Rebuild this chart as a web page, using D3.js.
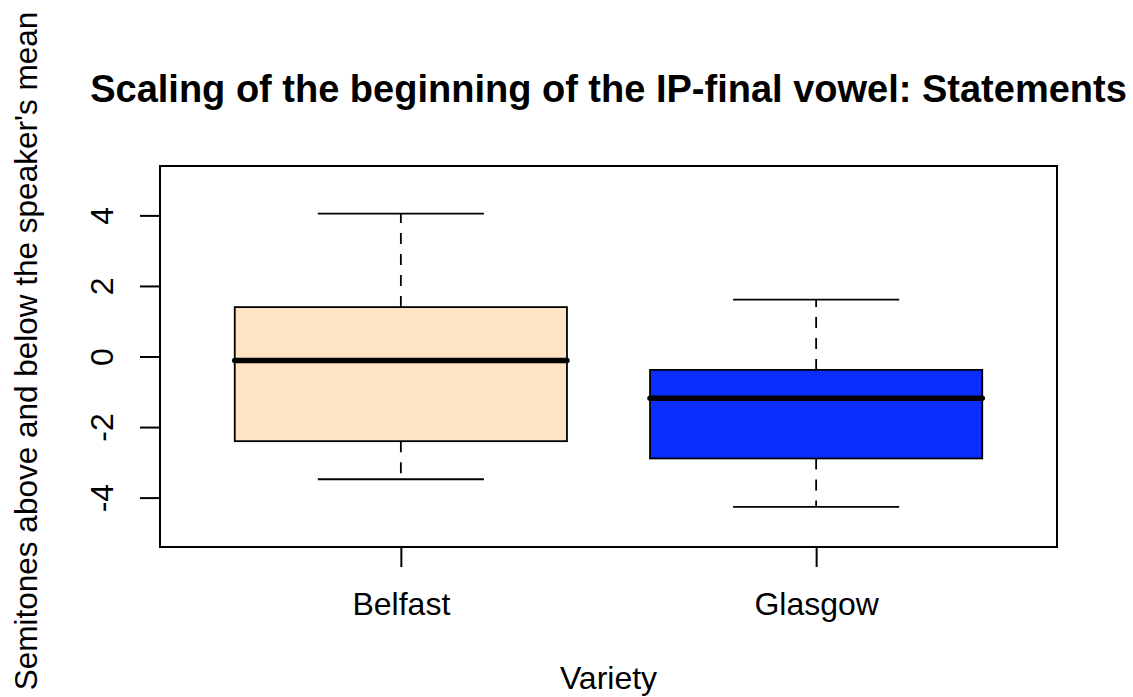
<!DOCTYPE html>
<html>
<head>
<meta charset="utf-8">
<script src="https://cdn.jsdelivr.net/npm/d3@7"></script>
<style>
  body { margin: 0; background: #fff; }
  text { font-family: "Liberation Sans", Arial, sans-serif; fill: #000; }
</style>
</head>
<body>
<div id="plot"></div>
<script>
// boxplot statistics
var varieties = ['Belfast', 'Glasgow'];
var lowWhisker = [-3.48, -4.26];
var lowerQuartile = [-2.40, -2.89];
var medians = [-0.11, -1.18];
var upperQuartile = [1.40, -0.38];
var highWhisker = [4.05, 1.61];
var yTicks = [-4, -2, 0, 2, 4];
var fills = ['#ffe4c4', '#0b2dff'];

var W = 1133, H = 697;
var margin = {t: 166, r: 76, b: 150, l: 160};
var width = W - margin.l - margin.r,
    height = H - margin.t - margin.b;

var svg = d3.select('#plot')
  .append('svg')
  .attr('width', W)
  .attr('height', H);

// R style domains: ylim c(-5,5) and x 0.5..2.5, both padded 4%
var x = d3.scaleLinear().domain([0.42, 2.58]).range([margin.l, margin.l + width]);
var y = d3.scaleLinear().domain([-5.4, 5.4]).range([margin.t + height, margin.t]);

var boxes = varieties.map(function (v, i) {
  return {name: v, pos: i + 1, lo: lowWhisker[i], q1: lowerQuartile[i], med: medians[i],
          q3: upperQuartile[i], hi: highWhisker[i], fill: fills[i]};
});

var g = svg.selectAll('g.box').data(boxes).enter().append('g').attr('class', 'box');

// whiskers (dashed)
g.append('line')
  .attr('x1', d => x(d.pos)).attr('x2', d => x(d.pos))
  .attr('y1', d => y(d.q3)).attr('y2', d => y(d.hi))
  .style('stroke', '#000').style('stroke-width', 1.8).style('stroke-dasharray', '11,10');
g.append('line')
  .attr('x1', d => x(d.pos)).attr('x2', d => x(d.pos))
  .attr('y1', d => y(d.q1)).attr('y2', d => y(d.lo))
  .style('stroke', '#000').style('stroke-width', 1.8).style('stroke-dasharray', '11,10');

// staples
['lo', 'hi'].forEach(function (k) {
  g.append('line')
    .attr('x1', d => x(d.pos - 0.2)).attr('x2', d => x(d.pos + 0.2))
    .attr('y1', d => y(d[k])).attr('y2', d => y(d[k]))
    .style('stroke', '#000').style('stroke-width', 1.8);
});

g.append('rect')
  .attr('x', d => x(d.pos - 0.4))
  .attr('width', d => x(d.pos + 0.4) - x(d.pos - 0.4))
  .attr('y', d => y(d.q3))
  .attr('height', d => y(d.q1) - y(d.q3))
  .style('fill', d => d.fill)
  .style('stroke', '#000').style('stroke-width', 1.8);

g.append('line')
  .attr('x1', d => x(d.pos - 0.4)).attr('x2', d => x(d.pos + 0.4))
  .attr('y1', d => y(d.med)).attr('y2', d => y(d.med))
  .style('stroke', '#000').style('stroke-width', 5.5).style('stroke-linecap', 'round');

// plot frame
svg.append('rect')
  .attr('x', margin.l).attr('y', margin.t)
  .attr('width', width).attr('height', height)
  .style('fill', 'none').style('stroke', '#000').style('stroke-width', 2);

// y axis
var yAxis = svg.append('g')
  .attr('transform', 'translate(' + margin.l + ',0)')
  .call(d3.axisLeft(y).tickValues(yTicks).tickSize(20).tickPadding(0).tickFormat(d3.format('d')));
yAxis.select('.domain').attr('d', 'M0,' + y(-4) + 'V' + y(4)).style('stroke-width', 2);
yAxis.selectAll('.tick line').style('stroke-width', 2);
yAxis.selectAll('.tick text')
  .attr('x', 0).attr('dy', 0)
  .attr('transform', 'translate(-47,0) rotate(-90)')
  .attr('text-anchor', 'middle')
  .style('font-size', '32px')
  .style('font-family', '"Liberation Sans", Arial, sans-serif')
  .text(d => d < 0 ? '-' + Math.abs(d) : d);

// x axis
var xAxis = svg.append('g')
  .attr('transform', 'translate(0,' + (margin.t + height) + ')')
  .call(d3.axisBottom(x).tickValues([1, 2]).tickSize(20).tickPadding(0).tickFormat(d => varieties[d - 1]));
xAxis.select('.domain').remove();
xAxis.selectAll('.tick line').style('stroke-width', 2);
xAxis.selectAll('.tick text')
  .attr('y', 68).attr('dy', 0)
  .style('font-size', '32px')
  .style('font-family', '"Liberation Sans", Arial, sans-serif');

// titles
svg.append('text')
  .attr('x', margin.l + width / 2).attr('y', 102)
  .attr('text-anchor', 'middle')
  .style('font-size', '38px').style('font-weight', 'bold')
  .text('Scaling of the beginning of the IP-final vowel: Statements');

svg.append('text')
  .attr('x', margin.l + width / 2).attr('y', 689)
  .attr('text-anchor', 'middle')
  .style('font-size', '32px')
  .text('Variety');

svg.append('text')
  .attr('transform', 'translate(37,351) rotate(-90)')
  .attr('text-anchor', 'middle')
  .style('font-size', '31.5px')
  .text("Semitones above and below the speaker's mean");
</script>
</body>
</html>
